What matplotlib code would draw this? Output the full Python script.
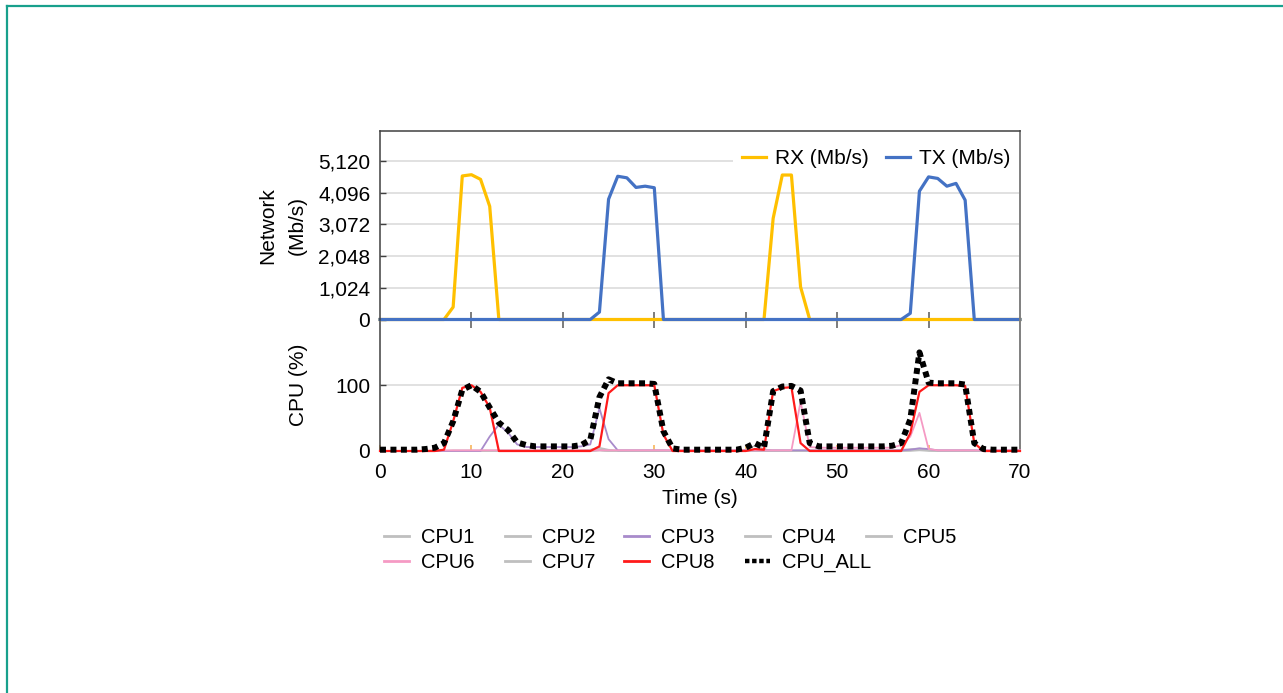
import matplotlib
matplotlib.use('Agg')
import matplotlib.pyplot as plt
from matplotlib.lines import Line2D

plt.rcParams['font.family'] = ['Liberation Sans', 'DejaVu Sans']

# ---------------- data ----------------
time_s = list(range(71))

rx_mbps = [0, 0, 0, 0, 0, 0, 0, 0, 400, 4630,
           4670, 4520, 3650, 0, 0, 0, 0, 0, 0, 0,
           0, 0, 0, 0, 0, 0, 0, 0, 0, 0,
           0, 0, 0, 0, 0, 0, 0, 0, 0, 0,
           0, 0, 0, 3260, 4660, 4660, 1050, 0, 0, 0,
           0, 0, 0, 0, 0, 0, 0, 0, 0, 0,
           0, 0, 0, 0, 0, 0, 0, 0, 0, 0,
           0]

tx_mbps = [0, 0, 0, 0, 0, 0, 0, 0, 0, 0,
           0, 0, 0, 0, 0, 0, 0, 0, 0, 0,
           0, 0, 0, 0, 240, 3880, 4620, 4570, 4260, 4300,
           4250, 0, 0, 0, 0, 0, 0, 0, 0, 0,
           0, 0, 0, 0, 0, 0, 0, 0, 0, 0,
           0, 0, 0, 0, 0, 0, 0, 0, 200, 4140,
           4600, 4550, 4300, 4390, 3850, 0, 0, 0, 0, 0,
           0]

cpu1 = [0, 0, 0, 0, 0, 0, 0, 0, 1, 1,
        1, 1, 1, 1, 1, 1, 1, 1, 1, 1,
        1, 1, 1, 2, 5, 2, 1, 1, 1, 1,
        1, 1, 0, 0, 0, 0, 0, 0, 0, 0,
        1, 1, 1, 1, 1, 1, 1, 1, 1, 1,
        1, 1, 1, 1, 1, 1, 1, 2, 3, 4,
        2, 1, 1, 1, 1, 1, 0, 0, 0, 0,
        0]
cpu2 = [0, 0, 0, 0, 0, 0, 0, 0, 0, 0,
        0, 0, 0, 0, 0, 0, 0, 0, 0, 0,
        0, 0, 1, 2, 3, 1, 0, 0, 0, 0,
        0, 0, 0, 0, 0, 0, 0, 0, 0, 0,
        0, 0, 0, 0, 0, 0, 0, 0, 0, 0,
        0, 0, 0, 0, 0, 0, 0, 1, 2, 3,
        1, 0, 0, 0, 0, 0, 0, 0, 0, 0,
        0]
cpu3 = [0, 0, 0, 0, 0, 0, 0, 0, 0, 0,
        0, 0, 22, 40, 28, 10, 6, 6, 6, 6,
        6, 6, 7, 10, 65, 18, 1, 1, 1, 1,
        1, 1, 1, 1, 1, 1, 1, 1, 1, 1,
        1, 1, 1, 1, 1, 1, 1, 1, 1, 1,
        1, 1, 1, 1, 1, 1, 1, 1, 2, 4,
        3, 1, 1, 1, 1, 1, 1, 1, 1, 1,
        1]
cpu4 = [0, 0, 0, 0, 0, 0, 0, 0, 0, 0,
        0, 0, 0, 0, 0, 0, 0, 0, 0, 0,
        0, 0, 0, 0, 1, 0, 0, 0, 0, 0,
        0, 0, 0, 0, 0, 0, 0, 0, 0, 1,
        2, 8, 3, 0, 0, 0, 0, 0, 0, 0,
        0, 0, 0, 0, 0, 0, 0, 0, 1, 2,
        1, 0, 0, 0, 0, 0, 0, 0, 0, 0,
        0]
cpu5 = [0, 0, 0, 0, 0, 0, 0, 0, 0, 0,
        0, 0, 0, 0, 0, 0, 0, 0, 0, 0,
        0, 0, 0, 0, 1, 0, 0, 0, 0, 0,
        0, 0, 0, 0, 0, 0, 0, 0, 0, 0,
        0, 0, 0, 0, 0, 0, 0, 0, 0, 0,
        0, 0, 0, 0, 0, 0, 0, 0, 1, 1,
        1, 0, 0, 0, 0, 0, 0, 0, 0, 0,
        0]
cpu6 = [0, 0, 0, 0, 0, 0, 1, 1, 1, 1,
        1, 1, 1, 1, 1, 1, 1, 1, 1, 1,
        1, 1, 1, 1, 1, 1, 1, 1, 1, 1,
        1, 1, 1, 1, 1, 1, 1, 1, 1, 1,
        1, 1, 1, 1, 1, 1, 75, 6, 5, 5,
        5, 5, 5, 5, 5, 5, 5, 9, 22, 58,
        3, 1, 1, 1, 1, 1, 1, 1, 1, 1,
        1]
cpu7 = [0, 0, 0, 0, 0, 0, 0, 0, 0, 0,
        0, 0, 0, 0, 0, 0, 0, 0, 0, 0,
        0, 0, 0, 0, 1, 0, 0, 0, 0, 0,
        0, 0, 0, 0, 0, 0, 0, 0, 0, 0,
        0, 0, 0, 0, 0, 0, 0, 0, 0, 0,
        0, 0, 0, 0, 0, 0, 0, 0, 0, 1,
        0, 0, 0, 0, 0, 0, 0, 0, 0, 0,
        0]
cpu8 = [0, 0, 0, 0, 0, 0, 0, 2, 45, 96,
        100, 90, 66, 0, 0, 0, 0, 0, 0, 0,
        0, 0, 0, 0, 7, 88, 100, 100, 100, 100,
        100, 25, 0, 0, 0, 0, 0, 0, 0, 0,
        0, 3, 2, 91, 96, 97, 12, 0, 0, 0,
        0, 0, 0, 0, 0, 0, 0, 0, 27, 90,
        100, 100, 100, 100, 99, 12, 0, 0, 0, 0,
        0]
cpu_all = [2, 2, 2, 2, 2, 3, 5, 12, 45, 93,
           100, 90, 66, 43, 32, 13, 9, 7, 7, 7,
           7, 7, 9, 17, 82, 109, 103, 103, 103, 103,
           102, 30, 4, 2, 2, 2, 2, 2, 2, 2,
           5, 12, 5, 91, 98, 99, 92, 12, 7, 7,
           7, 7, 7, 7, 7, 7, 8, 12, 48, 150,
           104, 103, 103, 103, 101, 12, 3, 2, 2, 2,
           2]

net_ticks = [0, 1024, 2048, 3072, 4096, 5120]
cpu_ticks = [0, 100]
time_ticks = [0, 10, 20, 30, 40, 50, 60, 70]

cpu_series = [("CPU1", cpu1), ("CPU2", cpu2), ("CPU3", cpu3), ("CPU4", cpu4),
              ("CPU5", cpu5), ("CPU6", cpu6), ("CPU7", cpu7), ("CPU8", cpu8),
              ("CPU_ALL", cpu_all)]

# ---------------- styles ----------------
W, H = 1283, 693
def fx(px):
    return px / W
def fy(py):
    return 1 - py / H

FS = 15
DARK = '#404040'
GRID = '#D9D9D9'
GRAY = '#BFBFBF'
styles = {
    "CPU1": dict(color=GRAY, lw=1.1, z=3),
    "CPU2": dict(color=GRAY, lw=1.1, z=3),
    "CPU3": dict(color='#A88BCB', lw=1.3, z=3.2),
    "CPU4": dict(color=GRAY, lw=1.1, z=3),
    "CPU5": dict(color=GRAY, lw=1.1, z=3),
    "CPU6": dict(color='#F59AC4', lw=1.3, z=3.3),
    "CPU7": dict(color=GRAY, lw=1.1, z=3),
    "CPU8": dict(color='#FF1A1A', lw=1.6, z=3.4),
}

fig = plt.figure(figsize=(12.83, 6.93), dpi=100)

# frame lines (teal) at left and top
fig.add_artist(Line2D([fx(6.5), fx(6.5)], [fy(6), 0], transform=fig.transFigure,
                      color='#18A08C', lw=1.6))
fig.add_artist(Line2D([fx(6.5), 1], [fy(6), fy(6)], transform=fig.transFigure,
                      color='#18A08C', lw=1.6))

L, R = 380, 1020
ax_cpu = fig.add_axes([fx(L), fy(451), fx(R) - fx(L), fy(319.5) - fy(451)])
ax_net = fig.add_axes([fx(L), fy(319.5), fx(R) - fx(L), fy(131) - fy(319.5)])
ax_net.patch.set_alpha(0)
ax_cpu.patch.set_alpha(0)

# ---- network ----
l_rx, = ax_net.plot(time_s, rx_mbps, color='#FFC000', lw=2.3, zorder=3,
                    clip_on=False, solid_joinstyle='round', label='RX (Mb/s)')
l_tx, = ax_net.plot(time_s, tx_mbps, color='#4472C4', lw=2.3, zorder=3.1,
                    clip_on=False, solid_joinstyle='round', label='TX (Mb/s)')
ax_net.set_xlim(0, 70)
ax_net.set_ylim(0, 6080)
ax_net.set_yticks(net_ticks)
ax_net.set_yticklabels([f"{v:,}" for v in net_ticks], fontsize=FS)
ax_net.set_xticks(time_ticks[1:-1])
ax_net.tick_params(axis='x', direction='inout', length=11, width=1.1, color='#595959',
                   labelbottom=False)
ax_net.tick_params(axis='y', direction='in', length=4.5, width=1, color=DARK, pad=7)
ax_net.grid(axis='y', color=GRID, lw=1.1)
ax_net.set_axisbelow(True)
for s in ['left', 'top', 'bottom']:
    ax_net.spines[s].set_color(DARK)
    ax_net.spines[s].set_linewidth(1.1)
ax_net.spines['right'].set_color('#7F7F7F')
ax_net.spines['right'].set_linewidth(1.4)
for s in ax_net.spines.values():
    s.set_zorder(6)
ax_net.spines['bottom'].set_zorder(2.5)

ax_net.set_ylabel('Network\n(Mb/s)', fontsize=FS, linespacing=1.65)
ax_net.yaxis.set_label_coords(-0.115, 0.5)

leg = ax_net.legend(handles=[l_rx, l_tx], loc='upper right', bbox_to_anchor=(1.0, 0.952),
                    ncol=2, frameon=True, fancybox=False, facecolor='white',
                    edgecolor='none', framealpha=1, fontsize=FS, handlelength=1.15,
                    handletextpad=0.43, columnspacing=0.85, borderpad=0.45,
                    borderaxespad=0)
leg.set_zorder(2)

# ---- cpu ----
lines = {}
for name, vals in cpu_series:
    if name == "CPU_ALL":
        ln, = ax_cpu.plot(time_s, vals, color='black', lw=4.3, zorder=4,
                          linestyle=(0, (1.0, 0.75)), dash_capstyle='butt',
                          clip_on=False, label=name)
    else:
        st = styles[name]
        ln, = ax_cpu.plot(time_s, vals, color=st['color'], lw=st['lw'], zorder=st['z'],
                          clip_on=False, label=name)
    lines[name] = ln

ax_cpu.set_xlim(0, 70)
ax_cpu.set_ylim(0, 200)
ax_cpu.set_yticks(cpu_ticks)
ax_cpu.set_yticklabels([str(v) for v in cpu_ticks], fontsize=FS)
ax_cpu.set_xticks(time_ticks)
ax_cpu.set_xticklabels([str(v) for v in time_ticks], fontsize=FS)
ax_cpu.tick_params(axis='x', direction='in', length=4, width=1.2, color='#F7B55A', pad=9)
ax_cpu.tick_params(axis='y', direction='in', length=4.5, width=1, color=DARK, pad=7)
ax_cpu.grid(axis='y', color=GRID, lw=1.1)
ax_cpu.set_axisbelow(True)
ax_cpu.spines['top'].set_visible(False)
ax_cpu.spines['bottom'].set_visible(False)
ax_cpu.spines['left'].set_color(DARK)
ax_cpu.spines['left'].set_linewidth(1.1)
ax_cpu.spines['right'].set_color('#7F7F7F')
ax_cpu.spines['right'].set_linewidth(1.4)
ax_cpu.set_ylabel('CPU (%)', fontsize=FS)
ax_cpu.yaxis.set_label_coords(-0.113, 0.5)
ax_cpu.set_xlabel('Time (s)', fontsize=FS, labelpad=5)

# ---- CPU legend: 5 equal columns x 2 rows ----
columns = [["CPU1", "CPU6"], ["CPU2", "CPU7"], ["CPU3", "CPU8"], ["CPU4", "CPU_ALL"], ["CPU5"]]
col_x = [384, 505, 624, 745, 866]
for names, x0 in zip(columns, col_x):
    lg = fig.legend(handles=[lines[n] for n in names], loc='upper left',
                    bbox_to_anchor=(fx(x0), fy(528)), bbox_transform=fig.transFigure,
                    frameon=False, fontsize=14.5, handlelength=1.25, handletextpad=0.6,
                    borderpad=0, borderaxespad=0, labelspacing=0.3)
    for h in lg.legend_handles:
        if h.get_label() == "CPU_ALL" or h.get_color() == 'black':
            h.set_linewidth(3.2)
            h.set_linestyle((0, (1.0, 0.6)))
        else:
            h.set_linewidth(2.0)

fig.savefig('out.png', dpi=100, facecolor='white')
